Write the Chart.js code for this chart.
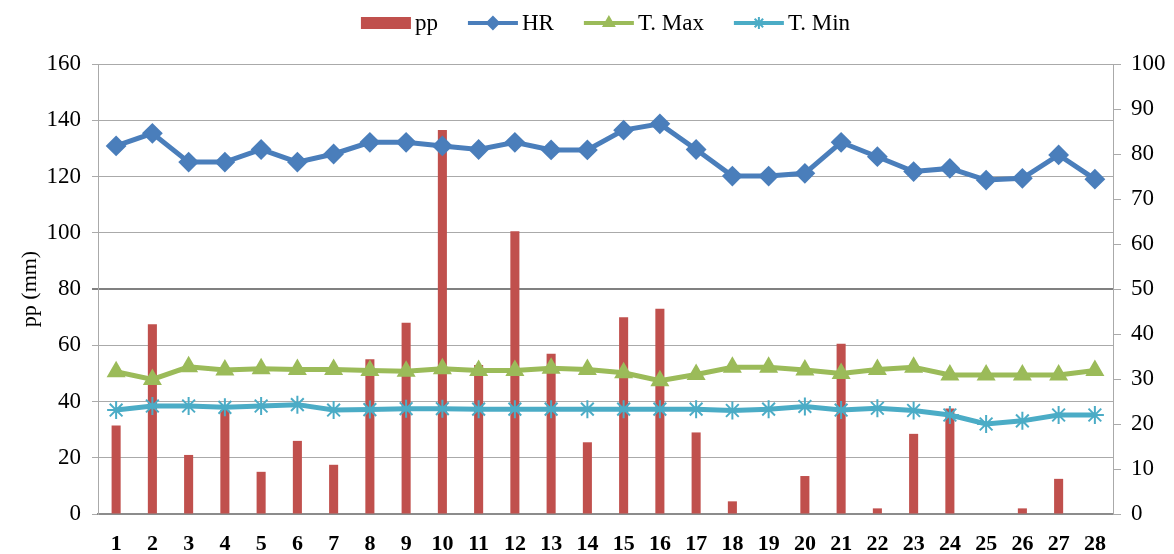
<!DOCTYPE html>
<html>
<head>
<meta charset="utf-8">
<script src="https://cdn.jsdelivr.net/npm/chart.js@4.4.1/dist/chart.umd.min.js"></script>
<style>
  html, body { margin: 0; padding: 0; background: #fff; }
</style>
</head>
<body>
<canvas id="chart" width="1174" height="554"></canvas>
<script>
const days = ["1", "2", "3", "4", "5", "6", "7", "8", "9", "10", "11", "12", "13", "14",
              "15", "16", "17", "18", "19", "20", "21", "22", "23", "24", "25", "26", "27", "28"];

// precipitation (mm), left axis
const pp = [31.5, 67.5, 21, 37, 15, 26, 17.5, 55, 68, 136.5, 53, 100.5, 57, 25.5,
            70, 73, 29, 4.5, 0, 13.5, 60.5, 2, 28.5, 37.5, 0, 2, 12.5, 0];
// right axis series
const hr = [81.8, 84.6, 78.2, 78.2, 81, 78.2, 80, 82.6, 82.6, 81.8, 81, 82.6, 80.9, 80.9,
            85.3, 86.7, 81, 75.1, 75.1, 75.7, 82.6, 79.4, 76.1, 76.8, 74.2, 74.6, 79.8, 74.4];
const tMax = [31.6, 29.9, 32.7, 32, 32.3, 32.1, 32.1, 31.9, 31.7, 32.3, 31.9, 31.9, 32.4, 32.1,
              31.4, 29.6, 31, 32.6, 32.6, 32, 31.2, 32.1, 32.6, 30.9, 30.9, 30.9, 30.9, 31.9];
const tMin = [23.1, 24, 24, 23.7, 24, 24.3, 23.1, 23.2, 23.4, 23.4, 23.3, 23.3, 23.3, 23.3,
              23.3, 23.3, 23.3, 23, 23.3, 23.9, 23.1, 23.5, 23, 22, 20, 20.7, 22, 22];

const serif = "'Liberation Serif', 'Times New Roman', serif";

// legend drawn by hand so line samples can carry their marker
const topLegend = {
    id: "topLegend",
    afterDraw(chart) {
        const ctx = chart.ctx;
        ctx.save();
        ctx.font = "23px " + serif;
        ctx.textBaseline = "middle";
        const items = chart.data.datasets.map(ds => ({ ds: ds, w: 54 + ctx.measureText(ds.label).width }));
        const gap = 30;
        const total = items.reduce((a, it) => a + it.w, 0) + gap * (items.length - 1);
        let x = (chart.chartArea.left + chart.chartArea.right) / 2 - total / 2;
        const y = 23;
        items.forEach(it => {
            const ds = it.ds;
            if (ds.type === "bar") {
                ctx.fillStyle = ds.backgroundColor;
                ctx.fillRect(x, y - 6, 50, 12);
            } else {
                ctx.strokeStyle = ds.borderColor;
                ctx.lineWidth = 4;
                ctx.beginPath();
                ctx.moveTo(x, y);
                ctx.lineTo(x + 50, y);
                ctx.stroke();
                ctx.fillStyle = ds.borderColor;
                ctx.lineWidth = 2;
                Chart.helpers.drawPoint(ctx, { pointStyle: ds.pointStyle, rotation: 0, radius: 6, borderWidth: 2 }, x + 25, y);
            }
            ctx.fillStyle = "#000";
            ctx.fillText(ds.label, x + 54, y + 1);
            x += it.w + gap;
        });
        ctx.restore();
    }
};

new Chart(document.getElementById("chart"), {
    data: {
        labels: days,
        datasets: [
            {
                type: "bar",
                label: "pp",
                data: pp,
                yAxisID: "y",
                backgroundColor: "#C0504D",
                barPercentage: 0.25,
                categoryPercentage: 1,
                order: 10
            },
            {
                type: "line",
                label: "HR",
                data: hr,
                yAxisID: "y1",
                borderColor: "#4A7EBB",
                backgroundColor: "#4A7EBB",
                borderWidth: 5,
                pointStyle: "rectRot",
                pointRadius: 9,
                pointBorderWidth: 2,
                tension: 0,
                order: 1
            },
            {
                type: "line",
                label: "T. Max",
                data: tMax,
                yAxisID: "y1",
                borderColor: "#9BBB59",
                backgroundColor: "#9BBB59",
                borderWidth: 5,
                pointStyle: "triangle",
                pointRadius: 9,
                pointBorderWidth: 2,
                order: 2
            },
            {
                type: "line",
                label: "T. Min",
                data: tMin,
                yAxisID: "y1",
                borderColor: "#4BACC6",
                backgroundColor: "#4BACC6",
                borderWidth: 5,
                pointStyle: "star",
                pointRadius: 9,
                pointBorderWidth: 2,
                order: 3
            }
        ]
    },
    options: {
        responsive: false,
        animation: false,
        layout: { padding: { top: 64, left: 0, right: 0, bottom: 0 } },
        plugins: {
            legend: { display: false },
            tooltip: { enabled: false }
        },
        scales: {
            x: {
                offset: true,
                grid: { display: false },
                border: { display: true, color: "#8c8c8c", width: 2 },
                ticks: {
                    color: "#000",
                    font: { family: serif, size: 22, weight: "bold" },
                    padding: 9,
                    maxRotation: 0,
                    autoSkip: false
                },
                afterFit: s => { s.height = 40; }
            },
            y: {
                position: "left",
                min: 0,
                max: 160,
                ticks: {
                    stepSize: 20,
                    color: "#000",
                    font: { family: serif, size: 23 },
                    padding: 11
                },
                grid: {
                    color: c => c.tick && c.tick.value === 80 ? "#808080" : "#aaaaaa",
                    lineWidth: c => c.tick && c.tick.value === 80 ? 2 : 1,
                    tickLength: 6
                },
                border: { color: "#aaaaaa" },
                title: {
                    display: true,
                    text: "pp (mm)",
                    color: "#000",
                    font: { family: serif, size: 22 },
                    padding: { top: 17, bottom: 0 }
                },
                afterFit: s => { s.width = 98; }
            },
            y1: {
                position: "right",
                min: 0,
                max: 100,
                ticks: {
                    stepSize: 10,
                    color: "#000",
                    font: { family: serif, size: 23 },
                    padding: 10
                },
                grid: { drawOnChartArea: false, color: "#aaaaaa", tickLength: 8 },
                border: { color: "#aaaaaa" },
                afterFit: s => { s.width = 61; }
            }
        }
    },
    plugins: [topLegend]
});
</script>
</body>
</html>
